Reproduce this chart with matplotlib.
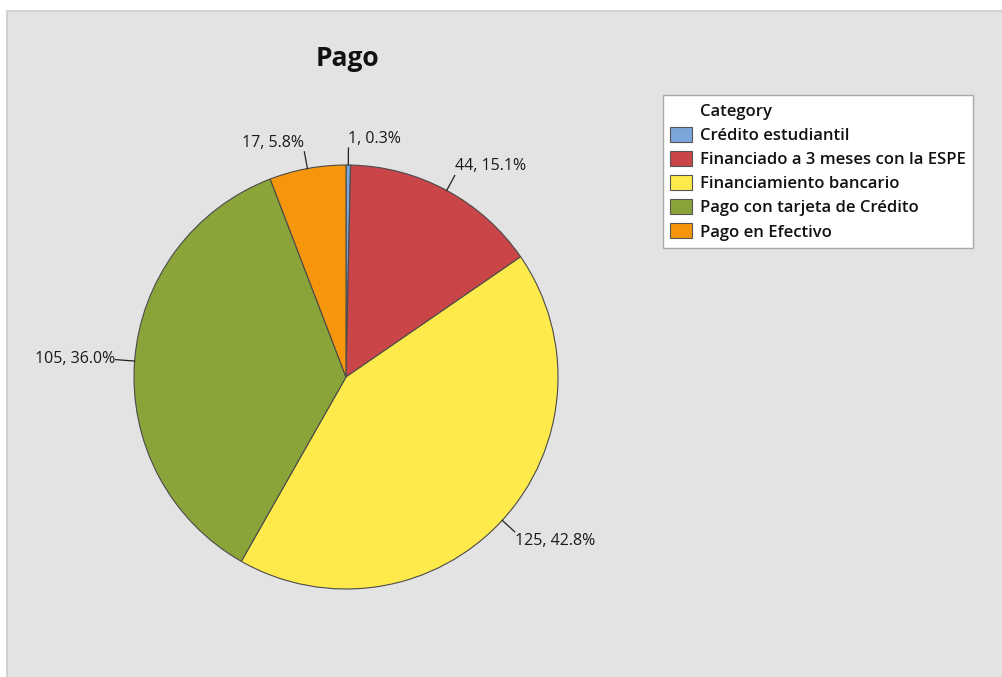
import matplotlib
matplotlib.use("Agg")
import matplotlib.pyplot as plt
from matplotlib.patches import Rectangle, Patch
import numpy as np

plt.rcParams['font.family'] = ['Open Sans', 'DejaVu Sans']

title = "Pago"
categories = ["Crédito estudiantil", "Financiado a 3 meses con la ESPE",
              "Financiamiento bancario", "Pago con tarjeta de Crédito",
              "Pago en Efectivo"]
counts = [1, 44, 125, 105, 17]
percents = ["0.3%", "15.1%", "42.8%", "36.0%", "5.8%"]
colors = ["#7ba6d9", "#c94548", "#ffea4b", "#8ba43a", "#f5960c"]

W, H = 1003, 677
fig = plt.figure(figsize=(W / 100, H / 100), dpi=100, facecolor="white")

# gray panel background
fig.patches.append(Rectangle((7 / W, -0.1), 1.2, (H - 11) / H + 0.1,
                             transform=fig.transFigure, facecolor="#e3e3e3",
                             edgecolor="#cccccc", linewidth=1.2, zorder=-10))

cx, cy, r = 346, 377, 212
ax = fig.add_axes([(cx - r) / W, (H - cy - r) / H, 2 * r / W, 2 * r / H])
ax.set_facecolor("none")
wedges, _ = ax.pie(counts, colors=colors, startangle=90, counterclock=False,
                   wedgeprops=dict(edgecolor="#4a4a4a", linewidth=0.8))
ax.set_xlim(-1, 1)
ax.set_ylim(-1, 1)
ax.set_aspect("equal")
ax.axis("off")

# labels with leader lines
for w, n, p in zip(wedges, counts, percents):
    ang = np.deg2rad((w.theta1 + w.theta2) / 2)
    c, s = np.cos(ang), np.sin(ang)
    rl = 1.09 if abs(s) < 0.3 else 1.08
    x0, y0 = c, s
    x1, y1 = rl * c, rl * s
    ax.plot([x0, x1], [y0, y1], color="#222222", linewidth=0.9, clip_on=False)
    ha = "left" if c > 0.02 else ("right" if c < -0.02 else "left")
    if abs(s) < 0.3:
        va = "center"
    elif s > 0:
        va = "bottom"
    else:
        va = "top"
    dx = 0.0 if ha == "left" else -0.002
    dy = 0.005 if va == "bottom" else (-0.005 if va == "top" else 0.005)
    ax.text(x1 + dx, y1 + dy, f"{n}, {p}", ha=ha, va=va, fontsize=11.5,
            color="#1a1a1a")

fig.text(347 / W, 1 - 58 / H, title, ha="center", va="center",
         fontsize=19, fontweight="bold", color="#111111")

handles = [Patch(visible=False)] + [Patch(facecolor=c, edgecolor="#555555",
                                          linewidth=0.8) for c in colors]
labels = ["Category"] + categories
leg = fig.legend(handles, labels, loc="upper left",
                 bbox_to_anchor=(663 / W, 1 - 95 / H), fontsize=12,
                 frameon=True, fancybox=False, shadow=False, framealpha=1,
                 handlelength=1.32, handleheight=1.0, handletextpad=0.45,
                 labelspacing=0.42, borderpad=0.45, borderaxespad=0)
leg.get_frame().set_edgecolor("#aaaaaa")
leg.get_frame().set_facecolor("white")
leg.get_frame().set_linewidth(1.0)
for t in leg.get_texts():
    t.set_fontweight("semibold")
    t.set_color("#111111")

fig.savefig("out.png", dpi=100, facecolor="white")
